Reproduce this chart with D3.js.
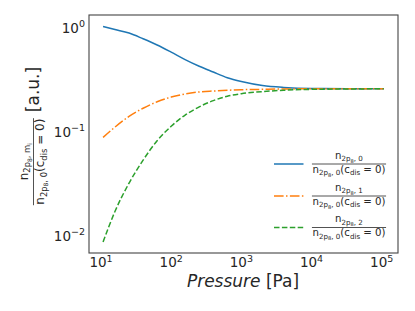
<!DOCTYPE html>
<html>
<head>
<meta charset="utf-8">
<script src="https://cdn.jsdelivr.net/npm/d3@7"></script>
<style>
  html, body { margin: 0; padding: 0; background: #fff; }
  svg { display: block; font-family: "DejaVu Sans", sans-serif; }
</style>
</head>
<body>
<svg id="chart" width="415" height="311"></svg>
<script>
// ---- data ----
const pressure = [10.7, 15.8, 25.1, 39.8, 63.1, 100, 158, 251, 398, 631, 1000, 2000, 4000, 10000, 31600, 107000];
const n0 = [1.0, 0.935, 0.865, 0.762, 0.664, 0.567, 0.481, 0.415, 0.365, 0.322, 0.296, 0.271, 0.260, 0.254, 0.253, 0.252];
const n1 = [0.086, 0.108, 0.137, 0.164, 0.189, 0.210, 0.225, 0.235, 0.240, 0.244, 0.247, 0.249, 0.251, 0.252, 0.252, 0.252];
const n2 = [0.0085, 0.0167, 0.0313, 0.052, 0.080, 0.110, 0.141, 0.169, 0.194, 0.214, 0.226, 0.237, 0.244, 0.249, 0.251, 0.252];
const seriesNames = ["0", "1", "2"];
const xTicks = [1e1, 1e2, 1e3, 1e4, 1e5];
const xTickExp = ["1", "2", "3", "4", "5"];
const yTicks = [1, 0.1, 0.01];
const yTickExp = ["0", "\u22121", "\u22122"];

const colors = ["#1f77b4", "#ff7f0e", "#2ca02c"];
const dashes = [null, "9.6,2.4,1.5,2.4", "5.5,2.4"];

const svg = d3.select("#chart");
const L = 89, R = 398, T = 15, B = 253;
const textColor = "#262626";

const x = d3.scaleLog().domain([Math.pow(10, 0.829), Math.pow(10, 5.232)]).range([L, R]);
const y = d3.scaleLog().domain([Math.pow(10, -2.176), Math.pow(10, 0.1105)]).range([B, T]);

// frame
svg.append("rect").attr("x", L).attr("y", T).attr("width", R - L).attr("height", B - T)
  .attr("fill", "none").attr("stroke", "#444").attr("stroke-width", 1.1);

// lines
const line = d3.line().x(d => x(d[0])).y(d => y(d[1])).curve(d3.curveMonotoneX);
[n0, n1, n2].forEach((vals, i) => {
  const pts = pressure.map((p, j) => [p, vals[j]]);
  svg.append("path").datum(pts).attr("d", line)
    .attr("fill", "none").attr("stroke", colors[i]).attr("stroke-width", 1.5)
    .attr("stroke-dasharray", dashes[i]);
});

// x tick labels
xTicks.forEach((t, i) => {
  const tx = svg.append("text").attr("x", x(t)).attr("y", 267).attr("text-anchor", "middle")
    .attr("font-size", 13.5).attr("fill", textColor);
  tx.append("tspan").text("10");
  tx.append("tspan").attr("dy", -5.5).attr("font-size", 9.5).text(xTickExp[i]);
});
// y tick labels
yTicks.forEach((t, i) => {
  const tx = svg.append("text").attr("x", 85).attr("y", y(t) + 6).attr("text-anchor", "end")
    .attr("font-size", 13.5).attr("fill", textColor);
  tx.append("tspan").text("10");
  tx.append("tspan").attr("dy", -5.5).attr("font-size", 9.5).text(yTickExp[i]);
});

// x label
const xl = svg.append("text").attr("x", 243).attr("y", 287).attr("text-anchor", "middle")
  .attr("font-size", 17).attr("fill", textColor);
xl.append("tspan").attr("font-style", "italic").text("Pressure");
xl.append("tspan").text(" [Pa]");

// math helper: runs with levels (0 normal, 1 subscript, 2 sub-subscript)
function mathText(g, runs, f, cx, baseY) {
  const sizes = [f, 0.7 * f, 0.5 * f];
  const offs = [0, 0.22 * f, 0.36 * f];
  const t = g.append("text").attr("x", 0).attr("y", baseY).attr("fill", textColor);
  let prev = 0;
  runs.forEach(r => {
    t.append("tspan").attr("font-size", sizes[r.l]).attr("dy", offs[r.l] - offs[prev]).text(r.t);
    prev = r.l;
  });
  const w = t.node().getComputedTextLength();
  t.attr("x", cx - w / 2);
  return w;
}
function fraction(g, numRuns, denRuns, f, cx, barY) {
  const w1 = mathText(g, numRuns, f, cx, barY - 0.5 * f);
  const w2 = mathText(g, denRuns, f, cx, barY + 0.87 * f);
  const w = Math.max(w1, w2) + 1;
  g.append("line").attr("x1", cx - w / 2).attr("x2", cx + w / 2).attr("y1", barY).attr("y2", barY)
    .attr("stroke", textColor).attr("stroke-width", 0.8);
}
const denRuns = [{t: "n", l: 0}, {t: "2p", l: 1}, {t: "8", l: 2}, {t: ", 0", l: 1},
  {t: "(c", l: 0}, {t: "dis", l: 1}, {t: " = 0)", l: 0}];

// y label (rotated)
const yl = svg.append("g").attr("transform", "rotate(-90)");
yl.append("text").attr("x", -89.5).attr("y", 38.5).attr("text-anchor", "middle")
  .attr("font-size", 17).attr("fill", textColor).text("[a.u.]");
fraction(yl,
  [{t: "n", l: 0}, {t: "2p", l: 1}, {t: "8", l: 2}, {t: ", m", l: 1}, {t: "i", l: 2}],
  denRuns, 12, -161.7, 33.5);

// legend
const legendY = [164, 196, 227.5];
seriesNames.forEach((s, i) => {
  svg.append("line").attr("x1", 274).attr("x2", 303.5).attr("y1", legendY[i]).attr("y2", legendY[i])
    .attr("stroke", colors[i]).attr("stroke-width", 1.5).attr("stroke-dasharray", dashes[i]);
  fraction(svg,
    [{t: "n", l: 0}, {t: "2p", l: 1}, {t: "8", l: 2}, {t: ", " + s, l: 1}],
    denRuns, 10.2, 349, legendY[i]);
});
</script>
</body>
</html>
